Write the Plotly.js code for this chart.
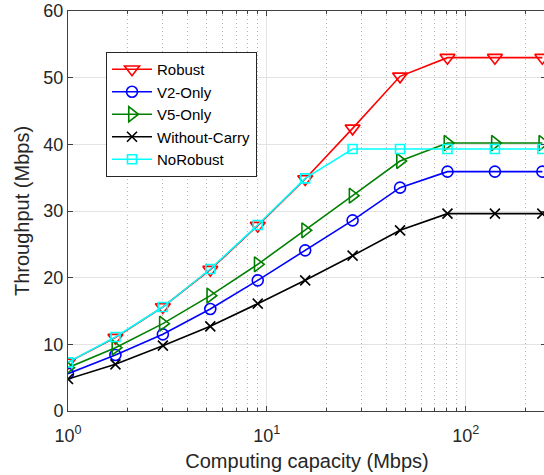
<!DOCTYPE html>
<html>
<head>
<meta charset="utf-8">
<script src="https://cdn.plot.ly/plotly-3.0.1.min.js"></script>
<style>
  html, body { margin: 0; padding: 0; background: #fff; overflow: hidden; }
  #wrap { width: 544px; height: 475px; overflow: hidden; }
  #chart { width: 546px; height: 475px; }
</style>
</head>
<body>
<div id="wrap"><div id="chart"></div></div>
<script>
// Computing capacity (Mbps), sampled on a log scale
const capacity = [1, 1.732, 3, 5.196, 9, 15.59, 27, 46.77, 81, 140.3, 243];

// Throughput (Mbps) per scheme
const robust       = [7.3, 11.0, 15.6, 21.2, 27.8, 34.8, 42.4, 50.2, 53.0, 53.0, 53.0];
const v2Only       = [5.6, 8.4, 11.5, 15.3, 19.6, 24.1, 28.6, 33.5, 35.9, 35.9, 35.9];
const v5Only       = [6.5, 9.5, 13.1, 17.3, 22.0, 27.1, 32.3, 37.5, 40.2, 40.2, 40.2];
const withoutCarry = [4.8, 7.0, 9.8, 12.7, 16.1, 19.6, 23.3, 27.1, 29.6, 29.6, 29.6];
const noRobust     = [7.3, 11.1, 15.6, 21.3, 27.9, 34.9, 39.3, 39.3, 39.3, 39.3, 39.3];

const seriesNames = ['Robust', 'V2-Only', 'V5-Only', 'Without-Carry', 'NoRobust'];

// Axis tick labels
const xTickVals = [1, 10, 100];
const xTickText = ['10<sup>0</sup>', '10<sup>1</sup>', '10<sup>2</sup>'];
const yTickVals = [0, 10, 20, 30, 40, 50, 60];

const styles = [
  { color: '#ff0000', symbol: 'triangle-down-open', size: 13 },
  { color: '#0000ff', symbol: 'circle-open', size: 11 },
  { color: '#008000', symbol: 'triangle-right-open', size: 13 },
  { color: '#000000', symbol: 'x-thin-open', size: 10 },
  { color: '#00ffff', symbol: 'square-open', size: 9 }
];
const values = [robust, v2Only, v5Only, withoutCarry, noRobust];

const traces = values.map((ys, i) => ({
  x: capacity,
  y: ys,
  name: seriesNames[i],
  type: 'scatter',
  mode: 'lines+markers',
  line: { color: styles[i].color, width: 1.6 },
  marker: {
    symbol: styles[i].symbol,
    size: styles[i].size,
    color: styles[i].color,
    line: { color: styles[i].color, width: 1.6 }
  }
}));

// minor log ticks: 2..9 within each decade
const minorVals = [];
for (let d = 1; d <= 100; d *= 10) {
  for (let k = 2; k <= 9; k++) minorVals.push(k * d);
}

const axisColor = '#404040';
const family = 'Liberation Sans, Arial, sans-serif';
const textColor = '#262626';

const layout = {
  width: 546,
  height: 475,
  margin: { l: 68, r: 0, t: 11, b: 64 },
  paper_bgcolor: '#ffffff',
  plot_bgcolor: '#ffffff',
  font: { family: family, size: 18, color: textColor },
  showlegend: true,
  xaxis: {
    type: 'log',
    range: [0, 2.404],
    tickmode: 'array',
    tickvals: xTickVals,
    ticktext: xTickText,
    ticks: 'inside',
    ticklen: 5,
    tickcolor: axisColor,
    ticklabelstandoff: 8,
    showline: true,
    linecolor: axisColor,
    linewidth: 1,
    mirror: 'ticks',
    showgrid: true,
    gridcolor: '#e3e3e3',
    gridwidth: 1,
    zeroline: false,
    automargin: false,
    tickfont: { family: family, size: 18, color: textColor },
    minor: {
      tickmode: 'array',
      tickvals: minorVals,
      ticks: 'inside',
      ticklen: 3,
      tickcolor: axisColor,
      showgrid: true,
      gridcolor: '#b8b8b8',
      griddash: '1px,3px',
      gridwidth: 1
    },
    title: { text: 'Computing capacity (Mbps)', font: { family: family, size: 20, color: textColor }, standoff: 9 }
  },
  yaxis: {
    range: [0, 60],
    tickmode: 'array',
    tickvals: yTickVals,
    ticks: 'inside',
    ticklen: 5,
    tickcolor: axisColor,
    showline: true,
    linecolor: axisColor,
    linewidth: 1,
    mirror: 'ticks',
    showgrid: true,
    gridcolor: '#e3e3e3',
    gridwidth: 1,
    zeroline: false,
    automargin: false,
    tickfont: { family: family, size: 18, color: textColor },
    title: { text: 'Throughput (Mbps)', font: { family: family, size: 20, color: textColor }, standoff: 8 }
  },
  legend: {
    x: 0.0795,
    y: 0.8975,
    xanchor: 'left',
    yanchor: 'top',
    bgcolor: '#ffffff',
    bordercolor: '#262626',
    borderwidth: 1,
    font: { family: family, size: 15, color: '#000000' },
    itemwidth: 40,
    tracegroupgap: 0
  }
};

Plotly.newPlot('chart', traces, layout, { displayModeBar: false, staticPlot: true });
</script>
</body>
</html>
